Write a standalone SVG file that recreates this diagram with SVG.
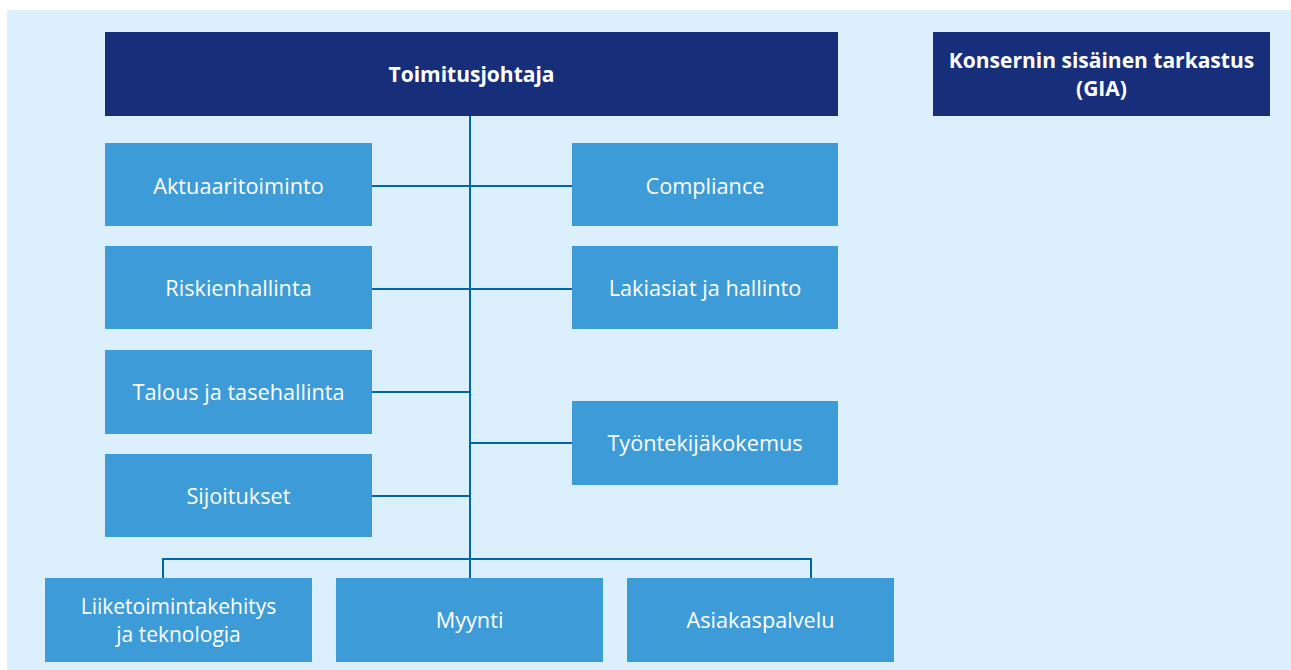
<svg xmlns="http://www.w3.org/2000/svg" width="1291" height="670" viewBox="0 0 1291 670">
<style>
.dark{fill:#172f7a}
.box{fill:#3d9cd8}
.t{font-family:"Open Sans","Liberation Sans",sans-serif;fill:#ffffff;text-anchor:middle;font-size:21.7px;font-weight:500}
.b{font-weight:bold;font-size:21px}
.two{font-size:21px}
.c{stroke:#0066aa;stroke-width:2;fill:none}
</style>
<rect x="7" y="10" width="1284" height="660" fill="#dbf0fc"/>
<g id="connectors">
<line class="c" x1="470" y1="116" x2="470" y2="559"/>
<line class="c" x1="372" y1="186" x2="572" y2="186"/>
<line class="c" x1="372" y1="289" x2="572" y2="289"/>
<line class="c" x1="372" y1="392" x2="470" y2="392"/>
<line class="c" x1="470" y1="443" x2="572" y2="443"/>
<line class="c" x1="372" y1="496" x2="470" y2="496"/>
<polyline class="c" points="163,578 163,559 811,559 811,578"/>
<line class="c" x1="470" y1="559" x2="470" y2="578"/>
</g>
<g id="ceo"><rect class="dark" x="105" y="32" width="733" height="84"/><text class="t b" x="471.5" y="82">Toimitusjohtaja</text></g>
<g id="gia"><rect class="dark" x="933" y="32" width="337" height="84"/><text class="t b" x="1101.5" y="68">Konsernin sisäinen tarkastus<tspan x="1101.5" y="96">(GIA)</tspan></text></g>
<g id="aktuaari"><rect class="box" x="105" y="143" width="267" height="83"/><text class="t" x="238.5" y="194">Aktuaaritoiminto</text></g>
<g id="compliance"><rect class="box" x="572" y="143" width="266" height="83"/><text class="t" x="705" y="194">Compliance</text></g>
<g id="riski"><rect class="box" x="105" y="246" width="267" height="83"/><text class="t" x="238.5" y="296">Riskienhallinta</text></g>
<g id="laki"><rect class="box" x="572" y="246" width="266" height="83"/><text class="t" x="705" y="296">Lakiasiat ja hallinto</text></g>
<g id="talous"><rect class="box" x="105" y="350" width="267" height="84"/><text class="t" x="238.5" y="400">Talous ja tasehallinta</text></g>
<g id="tyontekija"><rect class="box" x="572" y="401" width="266" height="84"/><text class="t" x="705" y="451">Työntekijäkokemus</text></g>
<g id="sijoitukset"><rect class="box" x="105" y="454" width="267" height="83"/><text class="t" x="238.5" y="504">Sijoitukset</text></g>
<g id="liiketoiminta"><rect class="box" x="45" y="578" width="267" height="84"/><text class="t two" x="178.5" y="614">Liiketoimintakehitys<tspan x="178.5" y="642">ja teknologia</tspan></text></g>
<g id="myynti"><rect class="box" x="336" y="578" width="267" height="84"/><text class="t" x="469.5" y="628">Myynti</text></g>
<g id="asiakas"><rect class="box" x="627" y="578" width="267" height="84"/><text class="t" x="760.5" y="628">Asiakaspalvelu</text></g>
</svg>
